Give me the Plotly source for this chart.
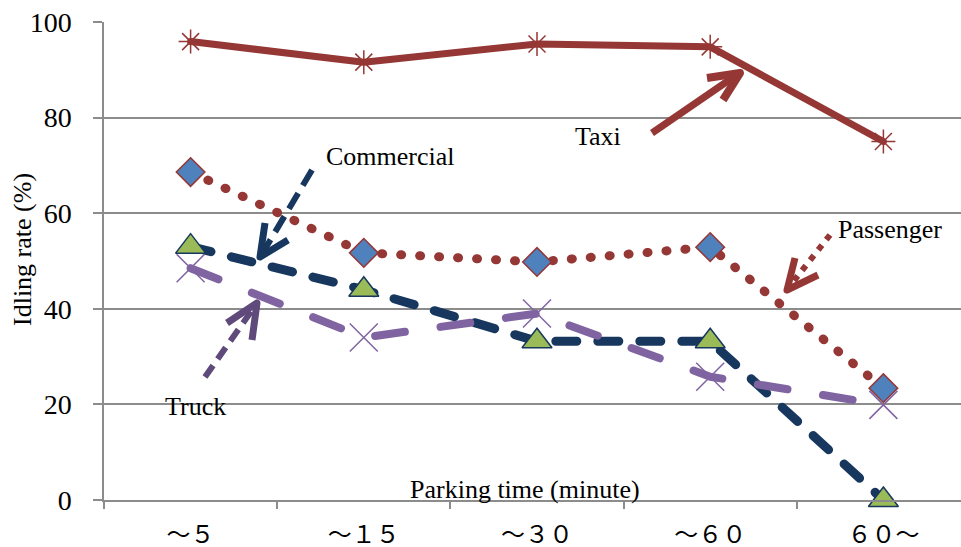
import plotly.graph_objects as go

# Parking-time buckets and idling rate (%) per vehicle type
categories = ["～５", "～１５", "～３０", "～６０", "６０～"]
taxi = [95.9, 91.6, 95.4, 94.8, 75.0]
passenger = [68.6, 51.7, 49.8, 52.9, 23.4]
commercial = [53.0, 44.0, 33.2, 33.2, 0.0]
truck = [48.5, 34.0, 39.0, 25.8, 19.9]
y_ticks = [0, 20, 40, 60, 80, 100]

W, H = 961, 547
L, R, T, B = 104, 0, 22, 47
PW, PH = W - L - R, H - T - B

SERIF = "Liberation Serif, Times New Roman, Noto Sans CJK JP, serif"
RED = "#953735"
NAVY = "#17375E"
PURPLE = "#8064A2"
GRID = "#8C8C8C"


def paper(x, y):
    """Pixel position -> paper fraction."""
    return (x - L) / PW, (H - B - y) / PH


def path(points_list):
    parts = []
    for pts in points_list:
        seg = []
        for i, (x, y) in enumerate(pts):
            px, py = paper(x, y)
            seg.append(("M" if i == 0 else "L") + f"{px:.5f},{py:.5f}")
        parts.append(" ".join(seg))
    return " ".join(parts)


fig = go.Figure()

fig.add_trace(go.Scatter(
    x=categories, y=taxi, mode="lines+markers", name="Taxi",
    line=dict(color=RED, width=7),
    marker=dict(symbol="asterisk-open", size=20, line=dict(color=RED, width=1.5)),
    cliponaxis=False,
))
fig.add_trace(go.Scatter(
    x=categories, y=passenger, mode="lines+markers", name="Passenger",
    line=dict(color=RED, width=9, dash="1px,18px"),
    marker=dict(symbol="diamond", size=22, color="#4F81BD", line=dict(color=RED, width=1.5)),
    cliponaxis=False,
))
fig.add_trace(go.Scatter(
    x=categories, y=commercial, mode="lines+markers", name="Commercial",
    line=dict(color=NAVY, width=9, dash="21px,21px"),
    marker=dict(symbol="triangle-up", size=26, color="#9BBB59", line=dict(color=NAVY, width=1.5)),
    cliponaxis=False,
))
fig.add_trace(go.Scatter(
    x=categories, y=truck, mode="lines+markers", name="Truck",
    line=dict(color=PURPLE, width=8, dash="30px,36px"),
    marker=dict(symbol="x-thin-open", size=28, line=dict(color=PURPLE, width=1.5)),
    cliponaxis=False,
))

# Callout arrows (shaft + open chevron head)
arrows = [
    # (shaft, head, color, width, dash)
    ([(652, 133), (738, 74)], [(707, 78), (740, 73), (723, 100)], RED, 7, "solid"),
    ([(312, 170), (262, 254)], [(265, 223), (260, 257), (288, 240)], NAVY, 6, "18px,9px"),
    ([(205, 377), (255, 306)], [(227, 323), (257, 303), (252, 340)], "#604A7B", 6, "14px,8px"),
    ([(830, 235), (789, 287)], [(795, 258), (787, 290), (818, 275)], RED, 6, "6px,7px"),
]
shapes = []
for shaft, head, color, width, dash in arrows:
    shapes.append(dict(type="path", xref="paper", yref="paper", path=path([shaft]),
                       line=dict(color=color, width=width, dash=dash)))
    shapes.append(dict(type="path", xref="paper", yref="paper", path=path([head]),
                       line=dict(color=color, width=width + 1)))

labels = [
    ("Taxi", 598, 136),
    ("Commercial", 390, 156),
    ("Passenger", 890, 229),
    ("Truck", 195, 406),
    ("Parking time (minute)", 525, 489),
]
annotations = []
for text, x, y in labels:
    px, py = paper(x, y)
    annotations.append(dict(text=text, x=px, y=py, xref="paper", yref="paper",
                            xanchor="center", yanchor="middle", showarrow=False,
                            font=dict(family=SERIF, size=26, color="black")))
tx, ty = paper(22, 250)
annotations.append(dict(text="Idling rate (%)", x=tx, y=ty, xref="paper", yref="paper",
                        xanchor="center", yanchor="middle", showarrow=False, textangle=-90,
                        font=dict(family=SERIF, size=26, color="black")))

fig.update_layout(
    width=W, height=H, autosize=False,
    margin=dict(l=L, r=R, t=T, b=B, pad=0),
    paper_bgcolor="white", plot_bgcolor="white",
    showlegend=False,
    shapes=shapes,
    annotations=annotations,
    xaxis=dict(
        type="category", categoryorder="array", categoryarray=categories,
        range=[-0.5, -0.5 + PW / 173.2],
        showgrid=False, zeroline=False,
        showline=True, linecolor=GRID, linewidth=1.5,
        ticks="outside", tickson="boundaries", ticklen=7, tickcolor=GRID, tickwidth=1.5,
        tickfont=dict(family=SERIF, size=24, color="black"),
        ticklabelstandoff=12,
    ),
    yaxis=dict(
        range=[0, 100], tickvals=y_ticks,
        showgrid=True, gridcolor=GRID, gridwidth=1.5,
        zeroline=False,
        showline=True, linecolor=GRID, linewidth=1.5,
        ticks="outside", ticklen=9, tickcolor=GRID, tickwidth=1.5,
        tickfont=dict(family=SERIF, size=28, color="black"),
        ticklabelstandoff=16,
    ),
)

# Rounded line ends for the series strokes and arrow heads
round_caps = """
var gd = document.getElementById('{plot_id}');
gd.querySelectorAll('.scatterlayer .js-line').forEach(function(p){
  p.style.strokeLinecap = 'round'; p.style.strokeLinejoin = 'round';
});
gd.querySelectorAll('.shapelayer path').forEach(function(p){
  p.style.strokeLinejoin = 'round';
});
"""

fig.write_html("out.html", post_script=round_caps)
